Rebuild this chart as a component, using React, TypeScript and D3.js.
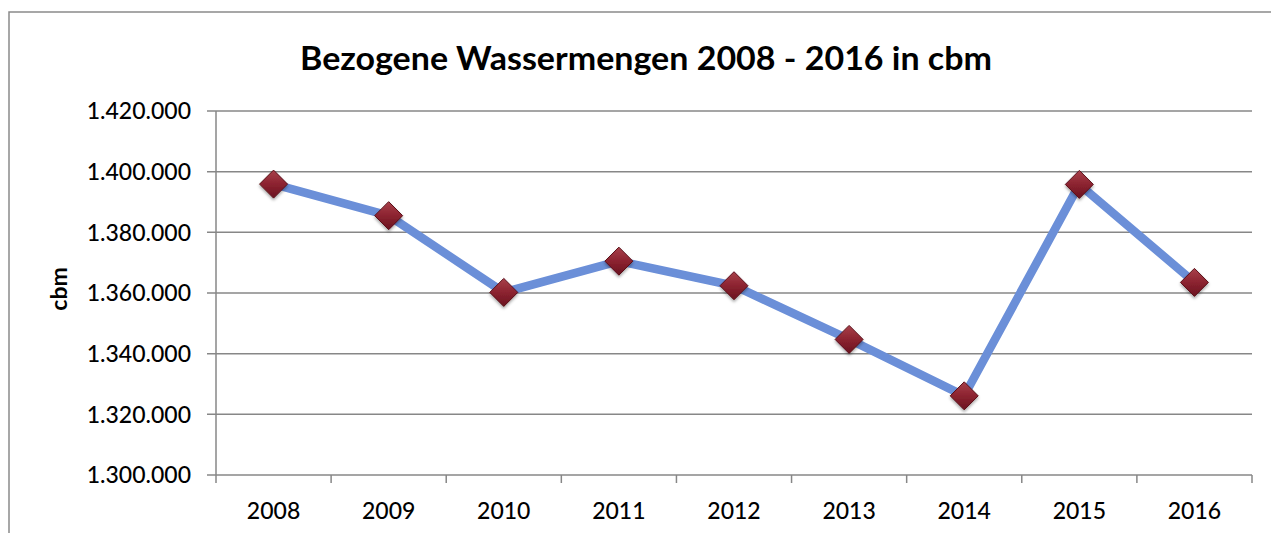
import React from "react";
import * as d3 from "d3";

const years = ["2008", "2009", "2010", "2011", "2012", "2013", "2014", "2015", "2016"];
const values = [1395900, 1385500, 1360200, 1370500, 1362400, 1344700, 1326100, 1395800, 1363500];
const yTicks = [1300000, 1320000, 1340000, 1360000, 1380000, 1400000, 1420000];
const title = "Bezogene Wassermengen 2008 - 2016 in cbm";
const yTitle = "cbm";

const W = 1271;
const H = 533;
const left = 216;
const right = 1252;
const top = 111;
const bottom = 475;

const fmt = (v: number) => d3.format(",")(v).replace(/,/g, ".");

export default function App() {
  const x = d3.scaleBand<string>().domain(years).range([left, right]);
  const y = d3.scaleLinear().domain([1300000, 1420000]).range([bottom, top]);
  const line = d3
    .line<number>()
    .x((_, i) => (x(years[i]) as number) + x.bandwidth() / 2)
    .y((d) => y(d));
  const grid = "#878787";
  const font = "Lato, 'Open Sans', sans-serif";
  const r = 14;
  return (
    <svg
      width={W}
      height={H}
      style={{ position: "absolute", left: 0, top: 0, background: "#fff" }}
    >
      <defs>
        <linearGradient id="mk" x1="0" y1="0" x2="0" y2="1">
          <stop offset="0" stopColor="#a8404a" />
          <stop offset="0.5" stopColor="#8c2330" />
          <stop offset="1" stopColor="#6a1320" />
        </linearGradient>
        <filter id="sh" x="-50%" y="-50%" width="200%" height="200%">
          <feDropShadow dx="0" dy="2" stdDeviation="1.5" floodColor="#000" floodOpacity="0.35" />
        </filter>
      </defs>
      <rect x={0} y={0} width={W} height={H} fill="#fff" />
      <path d={`M9,${H + 5} L9,12 L${W + 5},12`} fill="none" stroke="#8a8a8a" strokeWidth={1.5} />
      <text
        x={646}
        y={70}
        textAnchor="middle"
        fontFamily={font}
        fontWeight="bold"
        fontSize={32}
        textLength={692}
        lengthAdjust="spacingAndGlyphs"
        fill="#000"
      >
        {title}
      </text>
      {yTicks.map((t) => (
        <g key={t}>
          <line x1={left - 9} x2={right} y1={y(t)} y2={y(t)} stroke={grid} strokeWidth={1.5} />
          <text
            x={191}
            y={y(t)}
            dy="0.36em"
            textAnchor="end"
            fontFamily={font}
            fontSize={23}
            fontWeight={500}
            fill="#000"
          >
            {fmt(t)}
          </text>
        </g>
      ))}
      <line x1={left} x2={left} y1={top} y2={bottom + 8} stroke={grid} strokeWidth={1.5} />
      {years.map((yr) => (
        <line
          key={"t" + yr}
          x1={(x(yr) as number) + x.bandwidth()}
          x2={(x(yr) as number) + x.bandwidth()}
          y1={bottom}
          y2={bottom + 8}
          stroke={grid}
          strokeWidth={1.5}
        />
      ))}
      {years.map((yr) => (
        <text
          key={"l" + yr}
          x={(x(yr) as number) + x.bandwidth() / 2}
          y={519}
          textAnchor="middle"
          fontFamily={font}
          fontSize={23}
          fontWeight={500}
          fill="#000"
        >
          {yr}
        </text>
      ))}
      <text
        transform={`translate(67,289) rotate(-90)`}
        textAnchor="middle"
        fontFamily={font}
        fontWeight="bold"
        fontSize={23}
        fill="#000"
      >
        {yTitle}
      </text>
      <path d={line(values) || ""} fill="none" stroke="#6b8fd8" strokeWidth={8.5} strokeLinejoin="round" />
      {values.map((v, i) => {
        const cx = (x(years[i]) as number) + x.bandwidth() / 2;
        const cy = y(v);
        return (
          <path
            key={"m" + i}
            d={`M${cx},${cy - r} L${cx + r},${cy} L${cx},${cy + r} L${cx - r},${cy} Z`}
            fill="url(#mk)"
            stroke="#5a0f18"
            strokeWidth={1}
            filter="url(#sh)"
          />
        );
      })}
    </svg>
  );
}
